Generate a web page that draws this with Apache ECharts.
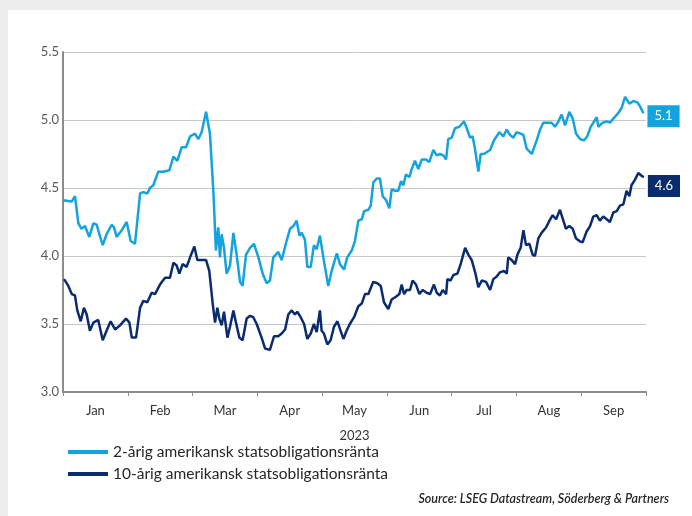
<!DOCTYPE html>
<html>
<head>
<meta charset="utf-8">
<script src="https://cdn.jsdelivr.net/npm/echarts@6/dist/echarts.min.js"></script>
<style>
html,body{margin:0;padding:0;background:#eeeded;width:692px;height:516px;overflow:hidden;}
#c{position:absolute;left:8px;top:10px;width:684px;height:506px;background:#ffffff;}
</style>
</head>
<body>
<div id="c"></div>
<script>
// x positions are days since 2023-01-01
const months = ['Jan','Feb','Mar','Apr','May','Jun','Jul','Aug','Sep'];
const yearLabel = '2023';
const yTicks = [3.0, 3.5, 4.0, 4.5, 5.0, 5.5];
const seriesNames = ['2-årig amerikansk statsobligationsränta', '10-årig amerikansk statsobligationsränta'];
const endLabels = ['5.1', '4.6'];
const sourceText = 'Source: LSEG Datastream, Söderberg & Partners';

const days2y = [0,4.1,5.6,7.2,8.7,10.3,12.3,14.2,15.8,17.0,
18.6,20.4,22.8,23.9,25.1,27.5,29.8,31.7,33.7,36.1,
37.6,39.5,40.7,42.3,44.6,47.0,49.8,51.7,53.5,55.6,
57.6,59.5,61.8,63.4,64.9,67.0,68.8,70.4,71.6,72.7,
73.5,74.3,75.4,76.6,78.2,79.8,81.3,82.9,84.1,85.7,
87.6,89.4,91.5,93.5,95.4,96.9,98.5,100.8,102.4,104.7,
106.3,107.9,109.4,110.7,111.8,113.3,114.4,116.0,117.5,118.8,
120.3,121.9,124.2,125.8,128.2,129.7,131.6,133.1,135.2,136.7,
138.3,139.9,141.0,143.0,144.1,145.3,146.9,148.4,149.7,151.3,
152.8,153.9,155.5,157.0,158.3,159.4,160.6,162.2,163.3,164.8,
166.4,168.0,170.0,171.5,173.4,175.0,176.5,178.1,179.4,180.4,
182.0,183.6,185.6,187.8,189.3,190.6,191.8,192.9,194.5,195.6,
197.1,200.0,201.8,204.3,206.2,207.8,209.3,210.9,212.4,214.3,
215.6,217.1,219.5,221.8,223.4,224.9,227.3,228.8,230.4,232.0,
233.5,235.1,237.1,238.7,240.2,242.1,244.0,245.5,247.1,248.7,
249.9,250.7,252.7,254.6,256.1,257.7,260.0,261.6,263.2,265.2,
267.1,268.9,270.2,271.8];
const yield2y = [4.41,4.40,4.44,4.24,4.20,4.22,4.14,4.24,4.23,4.16,
4.08,4.16,4.23,4.21,4.14,4.19,4.25,4.11,4.09,4.46,
4.47,4.46,4.50,4.52,4.62,4.62,4.63,4.73,4.70,4.80,
4.80,4.88,4.90,4.86,4.91,5.06,4.90,4.48,4.04,4.21,
3.99,4.16,4.06,3.87,3.93,4.17,4.01,3.81,3.78,4.01,
4.06,4.09,3.99,3.87,3.80,3.82,3.99,4.03,3.97,4.11,
4.20,4.22,4.26,4.15,4.17,4.12,3.92,3.92,4.08,4.05,
4.15,3.99,3.78,3.89,4.02,3.94,3.90,3.99,4.04,4.11,
4.26,4.27,4.33,4.34,4.37,4.54,4.57,4.57,4.44,4.41,
4.35,4.49,4.48,4.48,4.55,4.52,4.60,4.58,4.64,4.70,
4.64,4.71,4.71,4.69,4.78,4.74,4.75,4.74,4.71,4.86,
4.87,4.94,4.95,4.99,4.93,4.87,4.88,4.79,4.62,4.75,
4.75,4.78,4.85,4.91,4.88,4.93,4.89,4.87,4.91,4.90,
4.89,4.79,4.75,4.85,4.93,4.98,4.98,4.98,4.95,4.99,
5.04,4.96,5.06,5.01,4.90,4.86,4.85,4.88,4.95,4.99,
5.02,4.95,4.98,4.99,4.98,5.01,5.05,5.09,5.17,5.12,
5.14,5.13,5.10,5.05];

const days10y = [0.5,2.5,4.1,5.6,6.7,8.3,9.8,11.1,12.6,14.2,
16.5,18.6,20.4,22.3,24.4,26.7,29.5,31.1,32.2,34.2,
36.1,37.6,39.5,41.5,43.1,45.4,47.8,50.1,51.7,53.2,
54.5,56.0,57.9,59.5,61.5,62.9,64.2,67.0,68.5,70.1,
71.2,72.3,73.2,74.3,75.4,77.0,78.2,79.8,81.0,82.6,
84.1,86.0,87.6,89.1,90.7,93.0,94.6,96.9,98.8,100.8,
102.4,104.0,105.5,107.1,108.6,109.7,111.3,112.9,114.4,116.0,
117.5,118.8,120.3,121.1,122.2,123.8,125.3,126.9,128.5,130.0,
131.3,132.8,134.3,136.3,138.3,139.9,141.4,143.0,145.3,147.2,
148.8,150.3,152.3,153.9,155.9,157.5,158.6,159.7,160.9,162.5,
163.7,165.3,166.9,168.4,170.3,171.9,173.7,175.0,176.5,177.8,
179.4,180.0,181.5,182.8,184.7,186.2,188.3,189.8,191.4,193.0,
194.5,196.1,198.1,200.0,201.5,203.1,204.6,206.5,207.8,208.5,
210.1,211.7,212.8,214.3,215.6,216.8,218.4,219.9,221.0,222.6,
224.1,226.2,227.8,229.3,230.9,232.7,234.3,235.5,237.1,238.7,
240.2,241.8,243.3,245.2,246.8,248.3,249.9,251.4,253.0,254.6,
256.1,257.7,259.3,260.8,262.4,263.9,265.2,266.2,267.8,269.4,
270.9,272.0];
const yield10y = [3.83,3.78,3.72,3.71,3.60,3.52,3.62,3.57,3.45,3.51,
3.53,3.38,3.45,3.52,3.46,3.49,3.54,3.51,3.40,3.40,
3.62,3.67,3.66,3.73,3.72,3.79,3.84,3.84,3.95,3.93,
3.87,3.94,3.92,3.99,4.07,3.97,3.97,3.97,3.89,3.65,
3.51,3.62,3.54,3.49,3.59,3.40,3.48,3.60,3.51,3.40,
3.38,3.54,3.56,3.55,3.50,3.40,3.32,3.31,3.41,3.41,
3.43,3.46,3.57,3.60,3.57,3.59,3.55,3.50,3.39,3.43,
3.50,3.44,3.60,3.45,3.43,3.35,3.38,3.48,3.52,3.45,
3.39,3.45,3.50,3.55,3.63,3.65,3.72,3.72,3.81,3.80,
3.78,3.66,3.61,3.68,3.70,3.72,3.79,3.72,3.75,3.75,
3.82,3.79,3.72,3.75,3.73,3.72,3.79,3.73,3.71,3.75,
3.72,3.83,3.82,3.86,3.87,3.94,4.06,4.01,3.97,3.88,
3.77,3.82,3.81,3.75,3.83,3.85,3.88,3.89,3.87,3.99,
3.97,3.94,4.01,4.06,4.19,4.08,4.09,4.01,4.00,4.13,
4.17,4.21,4.26,4.30,4.27,4.34,4.26,4.20,4.22,4.20,
4.13,4.11,4.10,4.18,4.22,4.29,4.30,4.26,4.29,4.27,
4.25,4.32,4.33,4.37,4.38,4.48,4.44,4.52,4.56,4.61,
4.59,4.58];

const C2 = '#13a3dd';
const C10 = '#0b2c6c';
const FONT = 'Lato, "Open Sans", sans-serif';

function zip(xs, ys){ return xs.map((x,i)=>[x, ys[i]]); }

const chart = echarts.init(document.getElementById('c'), null, {renderer:'canvas'});
chart.setOption({
  animation: false,
  textStyle: {fontFamily: FONT},
  grid: {left: 55, right: 46, top: 42, bottom: 124, containLabel: false},
  xAxis: [
    {type:'value', min:0, max:273, show:false},
    {type:'category', data: months, boundaryGap:true, position:'bottom',
     axisLine:{show:true, lineStyle:{color:'#8c8c8c', width:2}},
     axisTick:{show:true, alignWithLabel:false, length:4, lineStyle:{color:'#8c8c8c'}},
     axisLabel:{color:'#333', fontSize:13, margin:12, fontFamily:FONT},
     name: yearLabel, nameLocation:'middle', nameGap:37,
     nameTextStyle:{color:'#333', fontSize:13, fontFamily:FONT},
     splitLine:{show:false}}
  ],
  yAxis: {type:'value', min:yTicks[0], max:yTicks[yTicks.length-1], interval:0.5,
    axisLine:{show:true, lineStyle:{color:'#8c8c8c', width:2}},
    axisTick:{show:false},
    axisLabel:{color:'#595959', fontSize:13, margin:4, fontFamily:FONT, formatter:v=>v.toFixed(1)},
    splitLine:{show:true, lineStyle:{color:'#c8c8c8', width:1}}
  },
  legend: {orient:'vertical', left:60, top:434, padding:0, itemWidth:40, itemHeight:4, itemGap:6, icon:'rect',
    textStyle:{color:'#262626', fontSize:15.5, fontFamily:FONT},
    data: seriesNames},
  graphic: [{type:'text', right:23, top:482,
    style:{text: sourceText, fill:'#262626', font:'italic 600 12.5px ' + FONT}}],
  series: [
    {name: seriesNames[0], type:'line', xAxisIndex:0, data: zip(days2y, yield2y), showSymbol:false,
     lineStyle:{color:C2, width:2.5}, itemStyle:{color:C2},
     endLabel:{show:true, formatter: endLabels[0], color:'#fff', backgroundColor:C2, fontSize:13,
       padding:[5,7,4,7], distance:4, offset:[0,3], fontFamily:FONT}},
    {name: seriesNames[1], type:'line', xAxisIndex:0, data: zip(days10y, yield10y), showSymbol:false,
     lineStyle:{color:C10, width:2.5}, itemStyle:{color:C10},
     endLabel:{show:true, formatter: endLabels[1], color:'#fff', backgroundColor:C10, fontSize:13,
       padding:[5,7,4,7], distance:4, offset:[0,9], fontFamily:FONT}}
  ]
});
</script>
</body>
</html>
